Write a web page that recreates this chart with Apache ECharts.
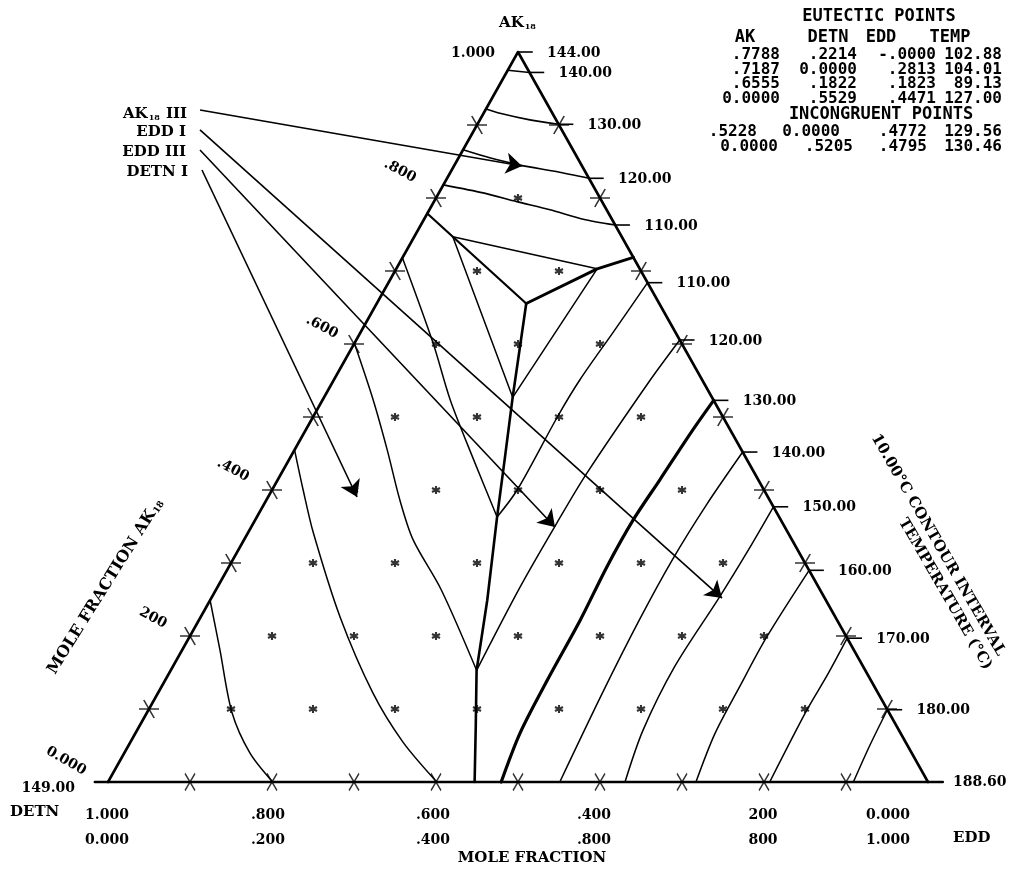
<!DOCTYPE html>
<html><head><meta charset="utf-8">
<script src="https://cdn.jsdelivr.net/npm/echarts@6/dist/echarts.min.js"></script>
<style>html,body{margin:0;padding:0;background:#fff}#c{width:1020px;height:870px}</style>
</head><body><div id="c"></div>
<script>
// ================= DATA (compositions as [AK, EDD] mole fractions; DETN = 1 - AK - EDD) =================
const gridTicks = [0.1, 0.2, 0.3, 0.4, 0.5, 0.6, 0.7, 0.8, 0.9];
// interior composition nodes (asterisks), by AK row
const nodeRowAK  = [0.1, 0.2, 0.3, 0.4, 0.5, 0.6, 0.7, 0.8];
const nodeRowEDD = [
  [0.1, 0.2, 0.3, 0.4, 0.5, 0.6, 0.7, 0.8],
  [0.1, 0.2, 0.3, 0.4, 0.5, 0.6, 0.7],
  [0.1, 0.2, 0.3, 0.4, 0.5, 0.6],
  [0.1, 0.2, 0.3, 0.4, 0.5],
  [0.1, 0.2, 0.3, 0.4],
  [0.1, 0.2, 0.3],
  [0.1, 0.2],
  [0.1]
];

// eutectic / incongruent table
const eutAK   = ['.7788', '.7187', '.6555', '0.0000'];
const eutDETN = ['.2214', '0.0000', '.1822', '.5529'];
const eutEDD  = ['-.0000', '.2813', '.1823', '.4471'];
const eutTEMP = ['102.88', '104.01', '89.13', '127.00'];
const incAK   = ['.5228', '0.0000'];
const incDETN = ['0.0000', '.5205'];
const incEDD  = ['.4772', '.4795'];
const incTEMP = ['129.56', '130.46'];

const E1 = [0.7788, 0.0000];   // AK-DETN eutectic
const E2 = [0.7187, 0.2813];   // AK-EDD eutectic
const TE = [0.6555, 0.1823];   // ternary eutectic
const E4 = [0.0000, 0.4471];   // DETN-EDD eutectic
const I1 = [0.5228, 0.4772];   // incongruent, AK-EDD side
const I2 = [0.0000, 0.4795];   // incongruent, DETN-EDD side

// AK primary field isotherms
const ak140 = [[0.975, 0], [0.972, 0.028]];
const ak130 = [[0.922, 0], [0.916, 0.020], [0.907, 0.061], [0.901, 0.099]];
const ak120 = [[0.866, 0], [0.855, 0.038], [0.845, 0.080], [0.836, 0.130], [0.827, 0.173]];
const ak110 = [[0.818, 0], [0.807, 0.054], [0.795, 0.101], [0.784, 0.147], [0.771, 0.194], [0.763, 0.237]];
const ak100 = [[0.747, 0.047], [0.703, 0.245]];
// DETN field isotherms
const de140 = [[0.249, 0], [0.181, 0.046], [0.096, 0.103], [0.040, 0.153], [0, 0.201]];
const de130 = [[0.455, 0], [0.400, 0.038], [0.341, 0.080], [0.226, 0.170], [0.122, 0.262], [0.055, 0.332], [0, 0.401]];
const de120 = [[0.601, 0], [0.523, 0.062], [0.455, 0.113], [0.386, 0.163], [0.332, 0.206], [0.263, 0.275], [0.153, 0.373]];
const de110 = [[0.718, 0], [0.601, 0.096], [0.523, 0.156], [0.444, 0.223], [0.363, 0.293]];
const de100 = [[0.747, 0.047], [0.527, 0.230]];
// compound field isotherms
const cp100 = [[0.703, 0.245], [0.527, 0.230]];
const cp110 = [[0.684, 0.316], [0.616, 0.308], [0.551, 0.300], [0.500, 0.298], [0.400, 0.299], [0.363, 0.293]];
const cp120 = [[0.6055, 0.3945], [0.551, 0.386], [0.423, 0.3725], [0.355, 0.370], [0.267, 0.369], [0.153, 0.373]];
// EDD field isotherms
const ed140 = [[0.452, 0.548], [0.380, 0.540], [0.304, 0.536], [0.222, 0.537], [0.122, 0.542], [0, 0.551]];
const ed150 = [[0.377, 0.623], [0.318, 0.622], [0.253, 0.619], [0.158, 0.612], [0.071, 0.617], [0, 0.6305]];
const ed160 = [[0.290, 0.710], [0.199, 0.704], [0.130, 0.705], [0.066, 0.707], [0, 0.717]];
const ed170 = [[0.197, 0.803], [0.147, 0.804], [0.099, 0.803], [0, 0.807]];
const ed180 = [[0.099, 0.901], [0.050, 0.904], [0, 0.909]];
// boundary curves
const bE1TE = [E1, [0.747, 0.047], TE];
const bE2TE = [E2, [0.703, 0.245], TE];
const bTEE4 = [TE, [0.527, 0.230], [0.444, 0.262], [0.363, 0.293], [0.249, 0.338], [0.153, 0.373], [0.077, 0.410], E4];
const bI1I2 = [I1, [0.482, 0.472], [0.414, 0.466], [0.359, 0.461], [0.295, 0.461], [0.222, 0.465], [0.140, 0.466], [0.067, 0.469], I2];

// right-edge temperature labels (contour end on the AK-EDD side)
const edgeTempText = ['144.00', '140.00', '130.00', '120.00', '110.00', '110.00', '120.00', '130.00', '140.00', '150.00', '160.00', '170.00', '180.00'];
const edgeTempPts  = [[1, 0], ak140[1], ak130[3], ak120[4], ak110[5], cp110[0], cp120[0], I1, ed140[0], ed150[0], ed160[0], ed170[0], ed180[0]];

// axis tick labels
const leftTickAK   = [0, 0.2, 0.4, 0.6, 0.8, 1.0];
const leftTickText = ['0.000', '200', '.400', '.600', '.800', '1.000'];
const baseTickEDD  = [0, 0.2, 0.4, 0.6, 0.8, 1.0];
const baseRowDETN  = ['1.000', '.800', '.600', '.400', '200', '0.000'];
const baseRowEDD   = ['0.000', '.200', '.400', '.800', '800', '1.000'];

// arrows (tail near label, tip in the diagram)
const arrowNames = ['AK18 III', 'EDD I', 'EDD III', 'DETN I'];
const arrowPts = [
  [[0.9205, -0.348], [0.8438, 0.083]],
  [[0.8932, -0.3344], [0.252, 0.6228]],
  [[0.8658, -0.3207], [0.3493, 0.3704]],
  [[0.8384, -0.3046], [0.3904, 0.1085]]
];

// ================= CHART =================
const ternary = (ak, edd) => [edd + ak / 2, ak];
const toXY = pts => pts.map(p => ternary(p[0], p[1]));
const SERIF = '"DejaVu Serif", serif';
const MONO = '"DejaVu Sans Mono", monospace';

function lineS(pts, width, smooth) {
  return { type: 'line', data: toXY(pts), symbol: 'none', smooth: smooth || false, clip: false, silent: true,
    lineStyle: { color: '#000', width: width, cap: 'round', join: 'round' }, z: 3 };
}
const series = [];
// frame
series.push(lineS([[0, -0.016], [0, 1.018]], 2.6));
series.push(lineS([[0, 0], [1, 0], [0, 1]], 2.6));
// isotherms
[ak140].forEach(c => series.push(lineS(c, 1.6)));
[ak130, ak120, ak110].forEach(c => series.push(lineS(c, 1.6, 0.25)));
[ak100, de100, cp100].forEach(c => series.push(lineS(c, 1.5)));
[de140, de130, de120, de110].forEach(c => series.push(lineS(c, 1.5, 0.3)));
[cp110, cp120].forEach(c => series.push(lineS(c, 1.5, 0.3)));
[ed140, ed150, ed160, ed170, ed180].forEach(c => series.push(lineS(c, 1.5, 0.3)));
// boundaries
series.push(lineS(bE1TE, 2.2));
series.push(lineS(bE2TE, 3));
series.push(lineS(bTEE4, 2.6));
series.push(lineS(bI1I2, 3.2, 0.3));
// contour ticks at the right edge
edgeTempPts.forEach(p => {
  const a = ternary(p[0], p[1]);
  series.push({ type: 'line', data: [a, [a[0] + 0.018, a[1]]], symbol: 'none', clip: false, silent: true,
    lineStyle: { color: '#000', width: 1.6 }, z: 3 });
});
// arrows
series.push({ type: 'lines', coordinateSystem: 'cartesian2d', silent: true, z: 4,
  symbol: ['none', 'arrow'], symbolSize: 16,
  lineStyle: { color: '#000', width: 1.6, opacity: 1 },
  data: arrowPts.map(a => ({ coords: toXY(a) })) });
// interior asterisks
const nodes = [];
nodeRowAK.forEach((ak, i) => nodeRowEDD[i].forEach(e => nodes.push(ternary(ak, e))));
series.push({ type: 'scatter', data: nodes, silent: true, z: 5,
  symbol: 'path://M5 0L5 10M0.67 2.5L9.33 7.5M0.67 7.5L9.33 2.5', symbolSize: 8,
  itemStyle: { color: 'rgba(0,0,0,0)', borderColor: '#000', borderWidth: 2.1 } });
// edge crosses
const crossStyle = { color: 'rgba(0,0,0,0)', borderColor: '#000', borderWidth: 1.6 };
series.push({ type: 'scatter', data: gridTicks.map(t => ternary(0, t)), silent: true, z: 5,
  symbol: 'path://M0 0L10 18M10 0L0 18', symbolSize: [10, 17], itemStyle: crossStyle });
series.push({ type: 'scatter', data: gridTicks.map(t => ternary(t, 0)), silent: true, z: 5,
  symbol: 'path://M0 9L20 9M4.8 0L15.2 18', symbolSize: [20, 18], itemStyle: crossStyle });
series.push({ type: 'scatter', data: gridTicks.map(t => ternary(t, 1 - t)), silent: true, z: 5,
  symbol: 'path://M0 9L20 9M15.2 0L4.8 18', symbolSize: [20, 18], itemStyle: crossStyle });

const chart = echarts.init(document.getElementById('c'));
chart.setOption({
  animation: false, backgroundColor: '#fff',
  grid: { left: 26, top: 52, width: 984, height: 730 },
  xAxis: { type: 'value', min: -0.1, max: 1.1, show: false },
  yAxis: { type: 'value', min: 0, max: 1, show: false },
  series: series
});

// ================= TEXT =================
const px = (ak, edd) => chart.convertToPixel({ gridIndex: 0 }, ternary(ak, edd));
function txt(x, y, text, o) {
  o = o || {};
  const st = { text: text, fill: '#000', font: o.font || ('bold 14px ' + SERIF),
    textAlign: o.align || 'left', textVerticalAlign: o.valign || 'middle',
    align: o.align || 'left', verticalAlign: o.valign || 'middle' };
  if (o.rich) st.rich = o.rich;
  return { type: 'text', x: x, y: y, rotation: (o.rot || 0) * Math.PI / 180, silent: true, z: 10, style: st };
}
const subRich = (size) => ({
  a: { fontFamily: SERIF, fontWeight: 'bold', fontSize: size, lineHeight: size + 4, verticalAlign: 'bottom' },
  s: { fontFamily: SERIF, fontWeight: 'bold', fontSize: Math.round(size * 0.55), lineHeight: size + 4, verticalAlign: 'bottom', padding: [0, 1, 0, 1] }
});
const G = [];
// right edge temperatures
edgeTempPts.forEach((p, i) => {
  const q = px(p[0], p[1]);
  G.push(txt(q[0] + 29, q[1] + 1, edgeTempText[i]));
});
{ const q = px(0, 1); G.push(txt(q[0] + 25, q[1], '188.60')); }
{ const q = px(0, 0); G.push(txt(q[0] - 33, q[1] + 6, '149.00', { align: 'right' })); }
// left tick labels
const leftOff = [[-42, -21], [-37, -18], [-39, -20], [-32, -17], [-36, -27], [-45, 1]];
const leftRot = [-30, -28, -28, -28, -28, 0];
leftTickAK.forEach((ak, i) => {
  const q = px(ak, 0);
  G.push(txt(q[0] + leftOff[i][0], q[1] + leftOff[i][1], leftTickText[i], { align: 'center', rot: leftRot[i] }));
});
// base tick labels
const baseDx = [-1, -4, -3, -6, -1, -40];
baseTickEDD.forEach((e, i) => {
  const q = px(0, e);
  G.push(txt(q[0] + baseDx[i], q[1] + 33, baseRowDETN[i], { align: 'center' }));
  G.push(txt(q[0] + baseDx[i], q[1] + 58, baseRowEDD[i], { align: 'center' }));
});
G.push(txt(10, 812, 'DETN', { font: 'bold 15px ' + SERIF }));
G.push(txt(953, 838, 'EDD', { font: 'bold 15px ' + SERIF }));
G.push(txt(532, 858, 'MOLE FRACTION', { align: 'center', font: 'bold 15px ' + SERIF }));
G.push(txt(518, 21, '{a|AK}{s|18}', { align: 'center', rich: subRich(15) }));
G.push(txt(104, 585, '{a|MOLE FRACTION AK}{s|18}', { align: 'center', rot: 58, rich: subRich(16) }));
G.push(txt(938, 545, '10.00°C CONTOUR INTERVAL', { align: 'center', rot: -60, font: 'bold 15px ' + SERIF }));
G.push(txt(945, 594, 'TEMPERATURE (°C)', { align: 'center', rot: -60, font: 'bold 15px ' + SERIF }));
// arrow labels
arrowPts.forEach((a, i) => {
  const q = px(a[0][0], a[0][1]);
  const nm = arrowNames[i];
  if (nm.indexOf('AK18') === 0) {
    G.push(txt(q[0] - 13, q[1] + 2, '{a|AK}{s|18}{a| III}', { align: 'right', rich: subRich(15) }));
  } else {
    G.push(txt(q[0] - 14, q[1] + 2, nm, { align: 'right', font: 'bold 15px ' + SERIF }));
  }
});
// table
const TH = 'bold 17px ' + MONO;
const TF = 'bold 16px ' + MONO;
G.push(txt(879, 17, 'EUTECTIC POINTS', { align: 'center', font: TH }));
[['AK', 745], ['DETN', 828], ['EDD', 881], ['TEMP', 950]].forEach(h => G.push(txt(h[1], 38, h[0], { align: 'center', font: TH })));
const eutEnds = [780, 857, 936, 1002];
const eutY = [55, 70, 84, 99];
eutY.forEach((y, r) => {
  [eutAK[r], eutDETN[r], eutEDD[r], eutTEMP[r]].forEach((s, c) => G.push(txt(eutEnds[c], y, s, { align: 'right', font: TF })));
});
G.push(txt(881, 115, 'INCONGRUENT POINTS', { align: 'center', font: TH }));
const incEnds = [[757, 840, 927, 1002], [778, 853, 927, 1002]];
const incY = [132, 147];
incY.forEach((y, r) => {
  [incAK[r], incDETN[r], incEDD[r], incTEMP[r]].forEach((s, c) => G.push(txt(incEnds[r][c], y, s, { align: 'right', font: TF })));
});
chart.setOption({ graphic: { elements: G } });
</script>
</body></html>
